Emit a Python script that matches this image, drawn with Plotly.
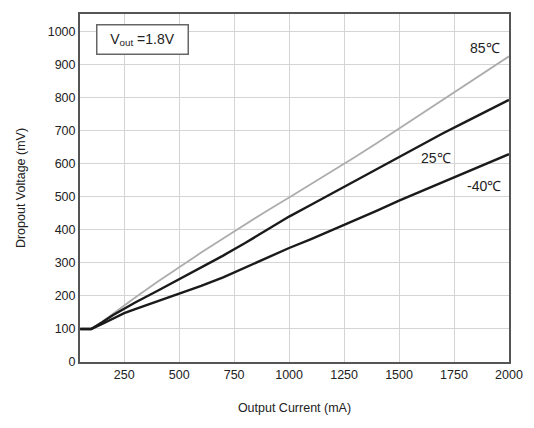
import plotly.graph_objects as go

current_ma = [50, 100, 150, 200, 250, 300, 400, 500, 600, 700, 800, 900, 1000,
              1100, 1200, 1300, 1400, 1500, 1600, 1700, 1800, 1900, 2000]
v_85c = [100, 100, 122, 147, 171, 195, 242, 287, 331, 374, 417, 458, 498,
         538, 578, 620, 663, 707, 751, 795, 839, 882, 925]
v_25c = [100, 100, 120, 142, 161, 180, 215, 250, 287, 322, 360, 400, 440,
         476, 512, 548, 585, 622, 657, 692, 726, 760, 793]
v_m40c = [100, 100, 115, 132, 148, 160, 183, 206, 230, 256, 286, 316, 345,
          372, 400, 428, 458, 488, 516, 545, 574, 602, 629]

x_ticks = [250, 500, 750, 1000, 1250, 1500, 1750, 2000]
y_ticks = [0, 100, 200, 300, 400, 500, 600, 700, 800, 900, 1000]

fig = go.Figure()
fig.add_trace(go.Scatter(x=current_ma, y=v_85c, mode="lines", name="85℃",
                         line=dict(color="#adadad", width=1.8)))
fig.add_trace(go.Scatter(x=current_ma, y=v_25c, mode="lines", name="25℃",
                         line=dict(color="#1a1a1a", width=2.4)))
fig.add_trace(go.Scatter(x=current_ma, y=v_m40c, mode="lines", name="-40℃",
                         line=dict(color="#1a1a1a", width=2.4)))

font_family = "Liberation Sans, Arial, sans-serif"
fig.update_layout(
    width=534, height=428,
    margin=dict(l=80, r=25, t=14, b=66),
    paper_bgcolor="white", plot_bgcolor="white",
    showlegend=False,
    font=dict(family=font_family, size=12, color="#222"),
)
fig.update_xaxes(
    range=[49, 2000], tickvals=x_ticks, ticktext=[str(v) for v in x_ticks],
    showgrid=True, gridcolor="#d4d4d4", gridwidth=1,
    showline=True, linecolor="#555", linewidth=2, mirror=True,
    ticks="", zeroline=False, tickfont=dict(size=12.5),
    title=dict(text="Output Current (mA)", font=dict(size=12.5), standoff=22),
)
fig.update_yaxes(
    range=[0, 1053], tickvals=y_ticks, ticktext=[str(v) for v in y_ticks],
    showgrid=True, gridcolor="#d4d4d4", gridwidth=1,
    showline=True, linecolor="#555", linewidth=2, mirror=True,
    ticks="", zeroline=False, tickfont=dict(size=12.5),
    title=dict(text="Dropout Voltage (mV)", font=dict(size=12.5), standoff=19),
)

fig.add_annotation(x=1890, y=951, text="85℃", showarrow=False,
                   font=dict(size=14, color="#222"))
fig.add_annotation(x=1667, y=618, text="25℃", showarrow=False,
                   font=dict(size=14, color="#222"))
fig.add_annotation(x=1885, y=533, text="-40℃", showarrow=False,
                   font=dict(size=14, color="#222"))
fig.add_annotation(xref="paper", yref="paper", x=0.037, y=0.971,
                   xanchor="left", yanchor="top",
                   text="V<sub>out</sub> =1.8V", showarrow=False,
                   width=84, height=22, align="center",
                   bordercolor="#666", borderwidth=1.5, borderpad=3,
                   bgcolor="white", font=dict(size=14, color="#222"))

fig.write_html("out.html")
